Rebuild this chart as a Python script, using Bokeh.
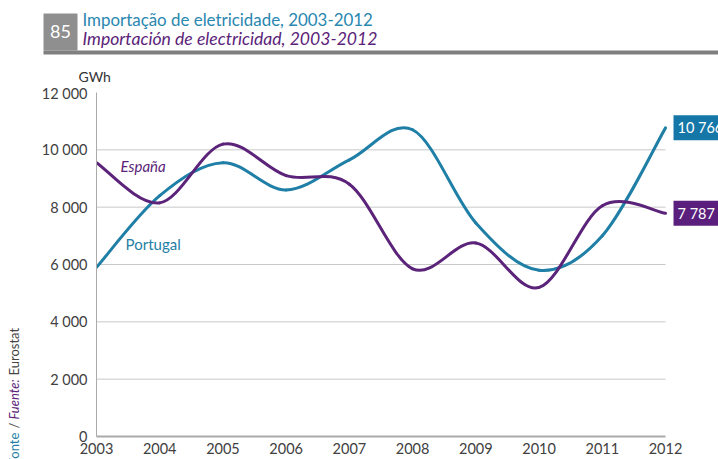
import math
from bokeh.plotting import figure
from bokeh.models import Range1d, FixedTicker, Label, ColumnDataSource
from bokeh.layouts import column, row
from bokeh.embed import file_html
from bokeh.resources import INLINE

# ---------------- data ----------------
years = [2003, 2004, 2005, 2006, 2007, 2008, 2009, 2010, 2011, 2012]
portugal = [5900, 8400, 9550, 8600, 9650, 10700, 7450, 5800, 7000, 10766]
espana = [9550, 8150, 10200, 9100, 8800, 5850, 6750, 5200, 8050, 7787]
y_ticks = [0, 2000, 4000, 6000, 8000, 10000, 12000]
y_tick_labels = ["0", "2 000", "4 000", "6 000", "8 000", "10 000", "12 000"]
x_tick_labels = [str(y) for y in years]
end_label_portugal = "10 766"
end_label_espana = "7 787"
title_pt = "Importação de eletricidade, 2003-2012"
title_es = "Importación de electricidad, 2003-2012"
chart_number = "85"
unit = "GWh"

TEAL = "#1f7fa6"
TEAL_BOX = "#1577a8"
PURPLE = "#5b2379"
PURPLE_BOX = "#5a1f7d"
TEXT = "#404040"
FONT = "Lato"


def smooth_segments(xs, ys):
    """Bezier control points (Excel-like smoothed line) through the data points."""
    n = len(xs)
    d = dict(x0=[], y0=[], x1=[], y1=[], cx0=[], cy0=[], cx1=[], cy1=[])
    for i in range(n - 1):
        pm = max(i - 1, 0)
        pp = min(i + 2, n - 1)
        d["x0"].append(xs[i]); d["y0"].append(ys[i])
        d["x1"].append(xs[i + 1]); d["y1"].append(ys[i + 1])
        d["cx0"].append(xs[i] + (xs[i + 1] - xs[pm]) / 6.0)
        d["cy0"].append(ys[i] + (ys[i + 1] - ys[pm]) / 6.0)
        d["cx1"].append(xs[i + 1] - (xs[pp] - xs[i]) / 6.0)
        d["cy1"].append(ys[i + 1] - (ys[pp] - ys[i]) / 6.0)
    return ColumnDataSource(d)


def bare(width, height):
    f = figure(width=width, height=height, output_backend="svg", toolbar_location=None,
               x_range=Range1d(0, width), y_range=Range1d(0, height),
               x_axis_location=None, y_axis_location=None, min_border=0)
    f.frame_align = False
    f.outline_line_color = None
    f.grid.visible = False
    return f


# ---------------- header ----------------
W = 718
HH = 84
h = bare(W, HH)
h.quad(left=[43], right=[77], bottom=[34], top=[71], fill_color="#8f8f8f", line_color=None)
h.quad(left=[43], right=[W], bottom=[30], top=[34], fill_color="#7f7f7f", line_color=None)
h.add_layout(Label(x=60, y=53, text=chart_number, text_color="white", text_font=FONT,
                   text_font_size="18px", text_align="center", text_baseline="middle"))
h.add_layout(Label(x=82, y=65, text=title_pt, text_color="#2a87b0", text_font=FONT,
                   text_font_size="16.9px", text_align="left", text_baseline="middle"))
h.add_layout(Label(x=82, y=46, text=title_es, text_color=PURPLE, text_font=FONT,
                   text_font_style="italic",
                   text_font_size="17.6px", text_align="left", text_baseline="middle"))
h.add_layout(Label(x=78, y=8, text=unit, text_color="#333333", text_font=FONT,
                   text_font_size="14px", text_align="left", text_baseline="middle"))

# ---------------- left strip: source note ----------------
MH = 459 - HH
LW = 20
lf = bare(LW, MH)
src_parts = [("Fonte", TEAL, "normal", -6), ("/", "#555555", "normal", 31),
             ("Fuente:", PURPLE, "italic", 40), ("Eurostat", "#444444", "normal", 84)]
for txt, col, style, yy in src_parts:
    lf.add_layout(Label(x=13, y=yy, text=txt, angle=math.pi / 2, text_color=col,
                        text_font=FONT, text_font_style=style, text_font_size="13px",
                        text_align="left", text_baseline="middle"))

# ---------------- main chart ----------------
PW = W - LW
x_pad = 0.838  # room right of 2012 for the end labels
p = figure(width=PW, height=MH, output_backend="svg", toolbar_location=None,
           x_range=Range1d(years[0], years[-1] + x_pad),
           y_range=Range1d(y_ticks[0], y_ticks[-1]),
           min_border_left=76, min_border_right=0, min_border_top=8, min_border_bottom=23)
p.frame_align = False
p.outline_line_color = None
p.grid.visible = False

# horizontal grid lines, limited to the year span
p.segment(x0=[years[0]] * 5, x1=[years[-1]] * 5, y0=y_ticks[1:-1], y1=y_ticks[1:-1],
          line_color="#c8c8c8", line_width=1)

p.xaxis.ticker = FixedTicker(ticks=years)
p.xaxis.bounds = (years[0], years[-1])
p.xaxis.major_label_overrides = {y: s for y, s in zip(years, x_tick_labels)}
p.yaxis.ticker = FixedTicker(ticks=y_ticks)
p.yaxis.major_label_overrides = {v: s for v, s in zip(y_ticks, y_tick_labels)}
for ax in (p.xaxis, p.yaxis):
    ax.major_tick_line_color = None
    ax.minor_tick_line_color = None
    ax.major_tick_out = 0
    ax.major_tick_in = 0
    ax.axis_line_color = "#aaaaaa"
    ax.major_label_text_color = TEXT
    ax.major_label_text_font = FONT
    ax.major_label_text_font_size = "14.5px"
p.xaxis.axis_line_width = 2
p.xaxis.major_label_standoff = 6
p.yaxis.major_label_standoff = 9

p.bezier(x0="x0", y0="y0", x1="x1", y1="y1", cx0="cx0", cy0="cy0", cx1="cx1", cy1="cy1",
         source=smooth_segments(years, portugal), line_color=TEAL, line_width=3, line_cap="round")
p.bezier(x0="x0", y0="y0", x1="x1", y1="y1", cx0="cx0", cy0="cy0", cx1="cx1", cy1="cy1",
         source=smooth_segments(years, espana), line_color=PURPLE, line_width=3, line_cap="round")

p.add_layout(Label(x=2003.38, y=9450, text="España", text_color=PURPLE, text_font=FONT,
                   text_font_style="italic", text_font_size="15px",
                   text_align="left", text_baseline="middle"))
p.add_layout(Label(x=2003.46, y=6730, text="Portugal", text_color=TEAL, text_font=FONT,
                   text_font_size="15px", text_align="left", text_baseline="middle"))

p.add_layout(Label(x=years[-1], y=portugal[-1], x_offset=8, text=end_label_portugal,
                   text_color="white", text_font=FONT, text_font_size="14.5px",
                   text_align="left", text_baseline="middle",
                   background_fill_color=TEAL_BOX, padding=4))
p.add_layout(Label(x=years[-1], y=espana[-1], x_offset=8, text=end_label_espana,
                   text_color="white", text_font=FONT, text_font_size="14.5px",
                   text_align="left", text_baseline="middle",
                   background_fill_color=PURPLE_BOX, padding=4))

layout = column(h, row(lf, p, spacing=0), spacing=0)
open("out.html", "w").write(file_html(layout, INLINE))
